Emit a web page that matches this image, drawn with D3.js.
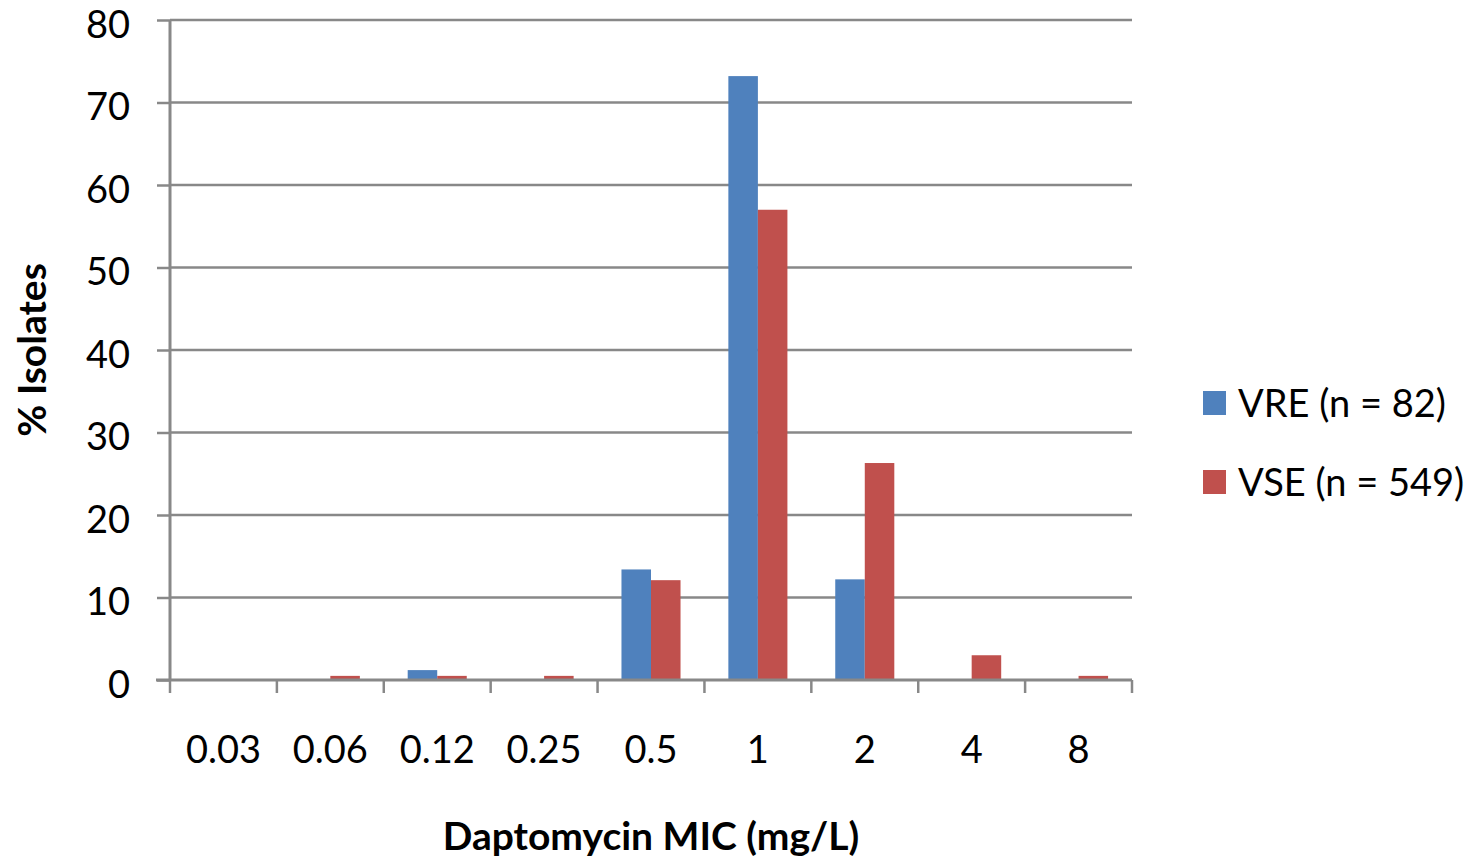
<!DOCTYPE html>
<html><head><meta charset="utf-8">
<script src="https://cdn.jsdelivr.net/npm/d3@7"></script>
<style>body{margin:0;background:#fff}svg{display:block}text{font-family:Lato,"Open Sans",sans-serif;fill:#000}</style>
</head><body><svg id="c" width="1480" height="861"></svg>
<script>
const categories = ["0.03","0.06","0.12","0.25","0.5","1","2","4","8"];
const seriesNames = ["VRE (n = 82)","VSE (n = 549)"];
const vre = [0, 0, 1.2, 0, 13.4, 73.2, 12.2, 0, 0];
const vse = [0, 0.5, 0.5, 0.5, 12.1, 57.0, 26.3, 3.0, 0.5];
const yTicks = [0,10,20,30,40,50,60,70,80];
const colors = ["#4F81BD","#C0504D"];

const svg = d3.select("#c");
const L=170, R=1132, T=20, B=680;
const x = d3.scaleBand().domain(categories).range([L,R]).paddingInner(0).paddingOuter(0);
const xs = d3.scaleBand().domain([0,1]).range([0,x.bandwidth()]).paddingInner(0).paddingOuter(0.81);
const y = d3.scaleLinear().domain([0,80]).range([B,T]);

// gridlines
svg.append("g").selectAll("line").data(yTicks.filter(d=>d>0)).join("line")
  .attr("x1",L).attr("x2",R).attr("y1",d=>y(d)).attr("y2",d=>y(d))
  .attr("stroke","#888").attr("stroke-width",2.5);

// bars
const data = categories.map((c,i)=>({c, v:[vre[i],vse[i]]}));
const g = svg.append("g");
data.forEach(d=>{
  d.v.forEach((v,s)=>{
    if(v<=0) return;
    g.append("rect").attr("x",x(d.c)+xs(s)).attr("width",xs.bandwidth())
      .attr("y",y(v)).attr("height",B-y(v)).attr("fill",colors[s]);
  });
});

// y axis
const ya = svg.append("g").attr("transform",`translate(${L},0)`)
  .call(d3.axisLeft(y).tickValues(yTicks).tickSize(13).tickPadding(27));
ya.select(".domain").attr("stroke","#888").attr("stroke-width",3).attr("d",`M0,${T}V${B}`);
ya.selectAll(".tick line").attr("stroke","#888").attr("stroke-width",2.5);
ya.selectAll("text").attr("font-size",38).attr("font-family","Lato,sans-serif").attr("fill","#000").attr("dy","0.45em");

// x axis
const xa = svg.append("g").attr("transform",`translate(0,${B})`)
  .call(d3.axisBottom(x).tickSize(0).tickPadding(56));
xa.select(".domain").attr("stroke","#888").attr("stroke-width",3).attr("d",`M${L-14},0H${R}`);
xa.selectAll("text").attr("font-size",38).attr("font-family","Lato,sans-serif").attr("fill","#000");
svg.append("g").selectAll("line").data(d3.range(categories.length+1)).join("line")
  .attr("x1",i=>L+i*x.step()).attr("x2",i=>L+i*x.step())
  .attr("y1",B).attr("y2",B+13).attr("stroke","#888").attr("stroke-width",2.5);

// titles
svg.append("text").attr("x",(L+R)/2).attr("y",850).attr("text-anchor","middle")
  .attr("font-size",39).attr("font-weight","bold").text("Daptomycin MIC (mg/L)");
svg.append("text").attr("transform",`translate(46,${(T+B)/2}) rotate(-90)`).attr("text-anchor","middle")
  .attr("font-size",39).attr("font-weight","bold").text("% Isolates");

// legend
const lg = svg.append("g").attr("transform","translate(1203,391)");
seriesNames.forEach((n,i)=>{
  lg.append("rect").attr("x",0).attr("y",i*79).attr("width",23).attr("height",24).attr("fill",colors[i]);
  lg.append("text").attr("x",35).attr("y",i*79+26).attr("font-size",38).text(n);
});
</script></body></html>
